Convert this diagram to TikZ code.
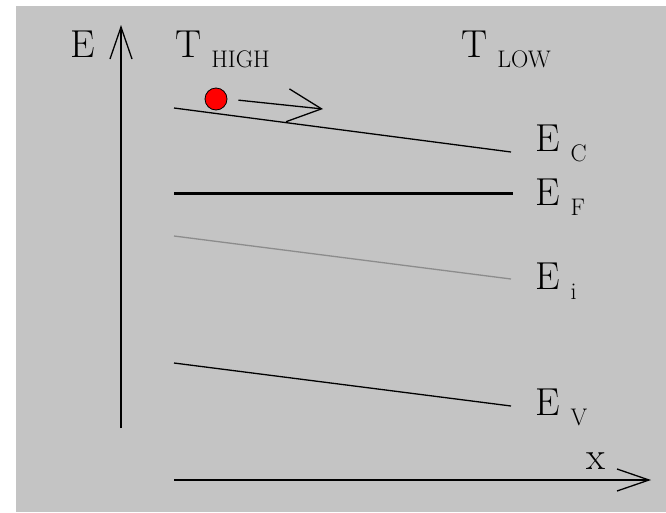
\documentclass[tikz,border=0pt]{standalone}
\usepackage{fontspec}
\usetikzlibrary{arrows.meta}
\definecolor{bandbg}{RGB}{196,196,196}
\definecolor{midgap}{RGB}{140,140,140}
% level label: big letter with a lowered small index
\newcommand{\lvl}[3][10pt]{#2\hspace{#1}\raisebox{-10pt}{\fontsize{24}{24}\selectfont #3}}

\begin{document}
\begin{tikzpicture}[x=1pt, y=-1pt,
  band/.style={line width=1.3pt},
  lbl/.style={anchor=base west, inner sep=0pt, font=\fontsize{39}{39}\selectfont},
  axis/.style={line width=1.3pt, -{Straight Barb[length=32pt, width=22pt]}},
]
\useasboundingbox (0,0) rectangle (666,512);
\fill[bandbg] (16,6) rectangle (666,512);

% axes
\coordinate (e0) at (121,428);
\coordinate (e1) at (121,25);
\coordinate (x0) at (174,480);
\coordinate (x1) at (651,480);
\draw[axis] (e0) -- (e1);
\draw[axis] (x0) -- (x1);
\node[lbl] (elab) at (70,57) {E};
\node[lbl] (xlab) at (586,469) {x};

% temperatures
\node[lbl] (thigh) at (175,57) {\lvl{T}{HIGH}};
\node[lbl] (tlow)  at (461,57) {\lvl{T}{LOW}};

% band edges
\coordinate (c0) at (174,108); \coordinate (c1) at (511,152);
\coordinate (f0) at (174,193); \coordinate (f1) at (513,193);
\coordinate (i0) at (174,236); \coordinate (i1) at (511,279);
\coordinate (v0) at (174,363); \coordinate (v1) at (511,406);
\draw[band] (c0) -- (c1);
\draw[line width=3pt] (f0) -- (f1);
\draw[band, midgap] (i0) -- (i1);
\draw[band] (v0) -- (v1);

\node[lbl] (ec) at (535,151) {\lvl[11pt]{E}{C}};
\node[lbl] (ef) at (535,205) {\lvl[11pt]{E}{F}};
\node[lbl] (ei) at (535,289) {\lvl[11pt]{E}{i}};
\node[lbl] (ev) at (535,415) {\lvl[11pt]{E}{V}};

% electron drifting towards the cold side
\node[circle, fill=red, draw, line width=0.8pt, minimum size=22pt, inner sep=0pt] (el) at (216,99) {};
\coordinate (drift) at (323,109);
\draw[band, shorten <=11pt, -{Straight Barb[length=34pt, width=33pt]}] (el.east) -- (drift);
\end{tikzpicture}
\end{document}
